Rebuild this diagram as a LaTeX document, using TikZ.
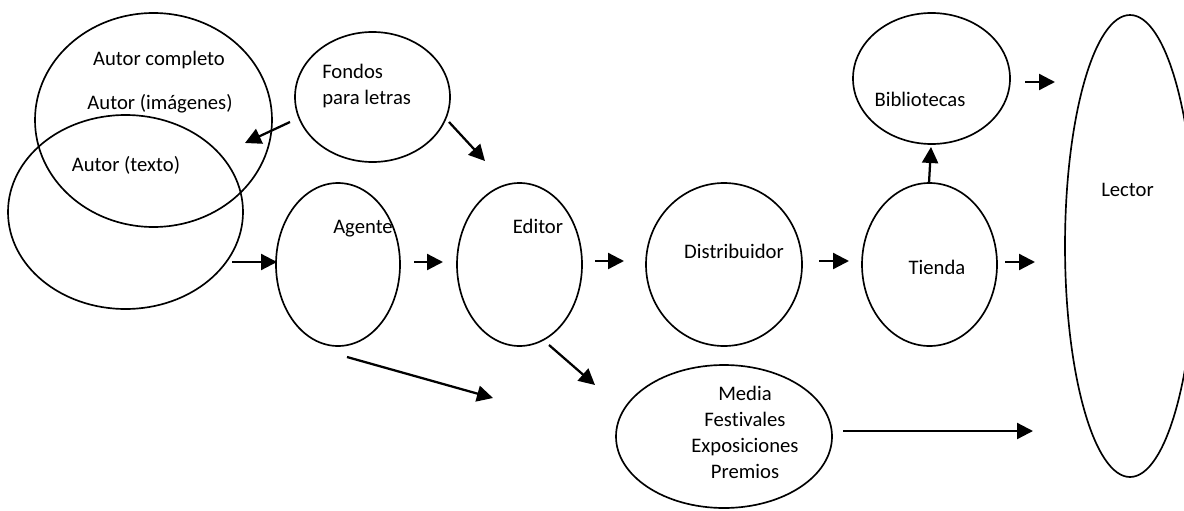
\documentclass[tikz,border=0pt]{standalone}
\usepackage{fontspec}
\setmainfont{Carlito}[Ligatures={NoCommon}]
\usetikzlibrary{shapes.geometric,arrows.meta}
\tikzset{
  oval/.style={draw, ellipse, line width=1.25pt, inner sep=0pt},
  lbl/.style={font=\fontsize{15.5}{19.5}\selectfont, inner sep=0pt, anchor=base},
  flow/.style={line width=1.7pt, -{Triangle[length=12pt,width=12pt]}}
}
\begin{document}
\begin{tikzpicture}[x=0.75pt,y=-0.75pt]
\useasboundingbox (0,0) rectangle (1184,510);
\clip (0,0) rectangle (1184,510);
% ellipses
\node[oval, minimum width=177.75pt, minimum height=160.5pt] (autorc) at (153.5,120) {};
\node[oval, minimum width=176.25pt, minimum height=145.5pt] (autort) at (125.5,212) {};
\node[oval, minimum width=116.25pt, minimum height=97.5pt] (fondos) at (372.5,97) {};
\node[oval, minimum width=93pt, minimum height=122.25pt] (agente) at (338,264.5) {};
\node[oval, minimum width=93.75pt, minimum height=122.25pt] (editor) at (519.5,264.5) {};
\node[oval, minimum width=117pt, minimum height=122.25pt] (distr) at (724,264.5) {};
\node[oval, minimum width=101.25pt, minimum height=122.25pt] (tienda) at (929.5,264.5) {};
\node[oval, minimum width=117.75pt, minimum height=98.25pt] (biblio) at (931.5,78.5) {};
\node[oval, minimum width=97.5pt, minimum height=346.5pt] (lector) at (1130,246) {};
\node[oval, minimum width=162pt, minimum height=107.25pt] (media) at (724,436.5) {};
% texts
\node[lbl] (tautorc) at (159,65.5) {Autor completo};
\node[lbl] (tautori) at (160,109.5) {Autor (imágenes)};
\node[lbl] (tautort) at (126,171.5) {Autor (texto)};
\node[lbl, anchor=base west] (tfondos1) at (322,78.5) {Fondos};
\node[lbl, anchor=base west] (tfondos2) at (322,104.5) {para letras};
\node[lbl] (tagente) at (363,233.5) {Agente};
\node[lbl] (teditor) at (538,233.5) {Editor};
\node[lbl] (tdistr) at (734,258.5) {Distribuidor};
\node[lbl] (ttienda) at (937,274) {Tienda};
\node[lbl] (tbiblio) at (920,106.5) {Bibliotecas};
\node[lbl] (tlector) at (1127.5,196.5) {Lector};
\node[lbl, anchor=center, align=center] (tmedia) at (745,432) {Media\\Festivales\\Exposiciones\\Premios};
% connector end points
\coordinate (a1s) at (290,122);  \coordinate (a1e) at (245,143);
\coordinate (a2s) at (449,122);  \coordinate (a2e) at (485,161);
\coordinate (a3s) at (232,262);  \coordinate (a3e) at (277,262);
\coordinate (a4s) at (414,262);  \coordinate (a4e) at (443,262);
\coordinate (a5s) at (595,261);  \coordinate (a5e) at (624,261);
\coordinate (a6s) at (819,261);  \coordinate (a6e) at (849,261);
\coordinate (a7s) at (1005,262); \coordinate (a7e) at (1035,262);
\coordinate (a8s) at (1025,82);  \coordinate (a8e) at (1055,82);
\coordinate (a9s) at (929,183);  \coordinate (a9e) at (931,147);
\coordinate (a10s) at (347,357); \coordinate (a10e) at (493,398);
\coordinate (a11s) at (549,345); \coordinate (a11e) at (595,385);
\coordinate (a12s) at (843,431); \coordinate (a12e) at (1033,431);
% connectors
\draw[flow] (a1s) -- (a1e);
\draw[flow] (a2s) -- (a2e);
\draw[flow] (a3s) -- (a3e);
\draw[flow] (a4s) -- (a4e);
\draw[flow] (a5s) -- (a5e);
\draw[flow] (a6s) -- (a6e);
\draw[flow] (a7s) -- (a7e);
\draw[flow] (a8s) -- (a8e);
\draw[flow] (a9s) -- (a9e);
\draw[flow] (a10s) -- (a10e);
\draw[flow] (a11s) -- (a11e);
\draw[flow] (a12s) -- (a12e);
\end{tikzpicture}
\end{document}
